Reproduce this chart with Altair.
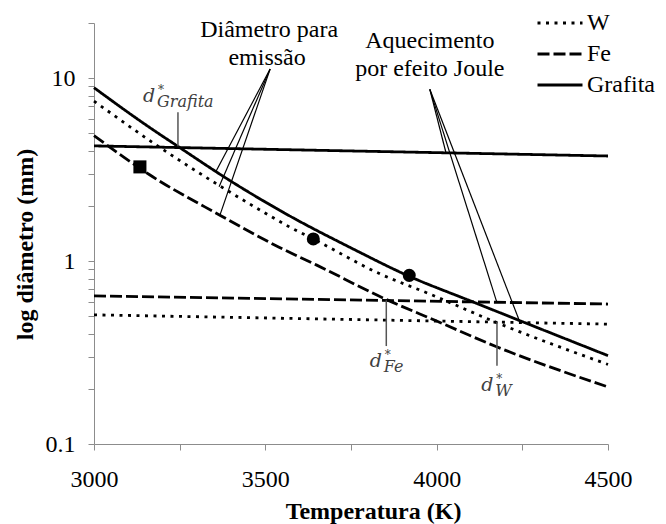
import altair as alt
import pandas as pd

# ---- emission-diameter curves (mm) vs temperature (K)
w_T = [3000, 3180, 3365, 3495, 3572, 3640, 3835, 3980, 4176, 4500]
w_d = [7.49, 4.33, 2.59, 1.85, 1.53, 1.32, 0.85, 0.66, 0.46, 0.272]
fe_T = [3000, 3160, 3370, 3540, 3650, 3850, 4000, 4175, 4500]
fe_d = [4.85, 2.98, 1.77, 1.19, 0.95, 0.62, 0.47, 0.34, 0.205]
gr_T = [3000, 3163, 3246, 3397, 3572, 3750, 3917, 4097, 4243, 4500]
gr_d = [8.86, 5.36, 4.22, 2.75, 1.76, 1.18, 0.83, 0.607, 0.472, 0.304]

# ---- Joule-heating diameters (mm)
joule_T = [3000, 4500]
w_joule = [0.508, 0.452]
fe_joule = [0.645, 0.582]
gr_joule = [4.26, 3.75]

materials = ["W", "Fe", "Grafita"]

# ---- markers
marker_T = [3134, 3640, 3920]
marker_d = [3.27, 1.32, 0.835]
marker_shape = ["square", "circle", "circle"]

# ---- annotation text
note_text = ["Diâmetro para", "emissão", "Aquecimento", "por efeito Joule"]
note_T = [3511, 3505, 3980, 3980]
note_d = [18.3, 12.8, 16.0, 11.2]

# ---- annotation leader lines (black)
lead_T = [3514, 3514, 3514, 3980, 3980, 3980]
lead_d = [11.2, 11.2, 11.2, 8.68, 8.68, 8.68]
lead_T2 = [3355, 3365, 3367, 4027, 4175, 4243]
lead_d2 = [3.07, 2.55, 1.77, 3.92, 0.60, 0.463]

# ---- d* labels and their leader lines
dstar_sub = ["Grafita", "Fe", "W"]
dstar_T = [3143, 3805, 4130]
dstar_d = [7.37, 0.262, 0.195]
dlead_T = [3245, 3853, 4176]
dlead_top = [6.5, 0.61, 0.464]
dlead_bot = [4.24, 0.343, 0.268]

x_values = [3000, 3250, 3500, 3750, 4000, 4250, 4500]
y_values = [0.1, 0.2, 0.3, 0.4, 0.5, 0.6, 0.7, 0.8, 0.9,
            1, 2, 3, 4, 5, 6, 7, 8, 9, 10, 20]

SERIF = "Liberation Serif"

rows = []
for mat, Ts, ds in [("W", w_T, w_d), ("Fe", fe_T, fe_d), ("Grafita", gr_T, gr_d)]:
    for t, d in zip(Ts, ds):
        rows.append({"material": mat, "kind": "emissao", "T": t, "d": d})
for mat, ds in [("W", w_joule), ("Fe", fe_joule), ("Grafita", gr_joule)]:
    for t, d in zip(joule_T, ds):
        rows.append({"material": mat, "kind": "joule", "T": t, "d": d})
lines_df = pd.DataFrame(rows)

markers_df = pd.DataFrame({"T": marker_T, "d": marker_d, "shape": marker_shape})
notes_df = pd.DataFrame({"T": note_T, "d": note_d, "text": note_text})
lead_df = pd.DataFrame({"T": lead_T, "d": lead_d, "T2": lead_T2, "d2": lead_d2})
dstar_df = pd.DataFrame({"T": dstar_T, "d": dstar_d, "sub": dstar_sub})
dlead_df = pd.DataFrame({"T": dlead_T, "d": dlead_top, "d2": dlead_bot})

x_enc = alt.X(
    "T:Q",
    scale=alt.Scale(domain=[3000, 4500], nice=False, zero=False),
    axis=alt.Axis(
        values=x_values,
        format="d",
        labelExpr="datum.value % 500 == 0 ? datum.label : ''",
        labelFlush=False,
        title="Temperatura (K)",
        titleX=279,
        titleY=55,
        labelPadding=17,
    ),
)
y_enc = alt.Y(
    "d:Q",
    scale=alt.Scale(type="log", domain=[0.1, 20], nice=False),
    axis=alt.Axis(
        values=y_values,
        format="~g",
        labelExpr="(datum.value == 0.1 || datum.value == 1 || datum.value == 10) ? datum.label : ''",
        labelFlush=False,
        title="log diâmetro (mm)",
        titleX=-57,
        titleY=221,
        labelPadding=13,
    ),
)

lines = alt.Chart(lines_df).mark_line(color="black", strokeWidth=2.8, interpolate="monotone").encode(
    x=x_enc,
    y=y_enc,
    strokeDash=alt.StrokeDash(
        "material:N",
        scale=alt.Scale(domain=materials, range=[[3, 5.5], [12, 4], [1, 0]]),
        legend=alt.Legend(
            title=None,
            orient="none",
            legendX=454,
            legendY=-12,
            symbolType="M-3,0H3",
            symbolSize=225,
            symbolStrokeWidth=3,
            symbolStrokeColor="black",
            labelFont=SERIF,
            labelFontSize=24,
            labelColor="black",
            labelOffset=15,
            rowPadding=7,
            padding=0,
        ),
    ),
    detail="kind:N",
    order="T:Q",
)

markers = alt.Chart(markers_df).mark_point(filled=True, color="black", size=170, opacity=1).encode(
    x=x_enc,
    y=y_enc,
    shape=alt.Shape("shape:N", scale=alt.Scale(domain=["square", "circle"], range=["square", "circle"]), legend=None),
)

leads = alt.Chart(lead_df).mark_rule(color="black", strokeWidth=1.2).encode(
    x=x_enc, y=y_enc, x2="T2:Q", y2="d2:Q"
)

dleads = alt.Chart(dlead_df).mark_rule(color="#555555", strokeWidth=1.5).encode(
    x=x_enc, y=y_enc, y2="d2:Q"
)

notes = alt.Chart(notes_df).mark_text(
    font=SERIF, fontSize=24, color="black", align="center", baseline="middle"
).encode(x=x_enc, y=y_enc, text="text:N")

d_main = alt.Chart(dstar_df).mark_text(
    font="DejaVu Serif", fontStyle="italic", fontSize=19, color="#404040",
    align="left", baseline="alphabetic"
).encode(x=x_enc, y=y_enc, text=alt.value("d"))

d_star = alt.Chart(dstar_df).mark_text(
    font="DejaVu Serif", fontSize=12, color="#404040",
    align="left", baseline="alphabetic", dx=15, dy=-8
).encode(x=x_enc, y=y_enc, text=alt.value("*"))

d_sub = alt.Chart(dstar_df).mark_text(
    font="DejaVu Serif", fontStyle="italic", fontSize=16, color="#404040",
    align="left", baseline="alphabetic", dx=14, dy=5
).encode(x=x_enc, y=y_enc, text="sub:N")

chart = alt.layer(lines, markers, leads, dleads, notes, d_main, d_star, d_sub).properties(
    width=514,
    height=421,
    background="white",
    autosize=alt.AutoSizeParams(type="none"),
    padding={"left": 86, "top": 15, "right": 50, "bottom": 80},
).configure_view(stroke=None).configure_axis(
    grid=False,
    domainColor="#8c8c8c",
    tickColor="#8c8c8c",
    tickSize=6,
    domainWidth=1,
    tickWidth=1,
    labelFont=SERIF,
    labelFontSize=24,
    labelColor="black",
    titleFont=SERIF,
    titleFontSize=24,
    titleFontWeight="bold",
    titleColor="black",
)

chart.save("out.html", embed_options={"renderer": "svg", "actions": False})
